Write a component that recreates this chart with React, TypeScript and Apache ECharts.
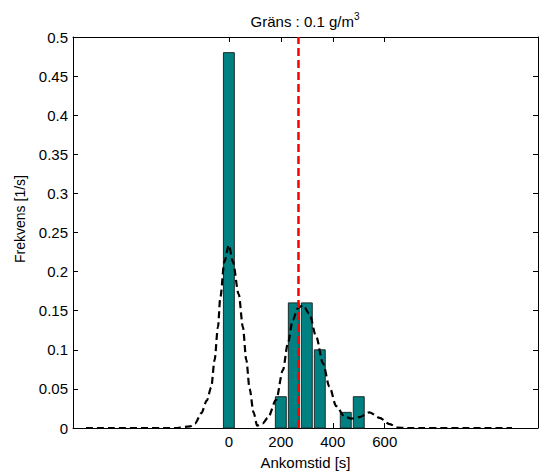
import React, { useEffect, useRef } from "react";
import * as echarts from "echarts";

// Histogram bins (arrival time, s) and frequencies (1/s)
const binCenters = [0, 200, 250, 300, 350, 450, 500];
const frequencies = [0.48, 0.04, 0.16, 0.16, 0.1, 0.02, 0.04];
const binWidth = 42;

// Smoothed density estimate (dashed curve)
const curveX = [-550, -200, -150, -130, -106, -85, -68, -55, -42, -33, -17, 0, 15, 38, 54, 67, 80, 95, 109, 130, 150, 182, 208, 227, 246, 265, 285, 310, 336, 362, 387, 413, 445, 471, 503, 541, 580, 618, 650, 680, 1090];
const curveY = [0, 0, 0.002, 0.006, 0.019, 0.035, 0.052, 0.087, 0.129, 0.167, 0.213, 0.234, 0.213, 0.171, 0.129, 0.087, 0.05, 0.02, 0.003, 0.006, 0.013, 0.036, 0.074, 0.108, 0.138, 0.153, 0.157, 0.146, 0.117, 0.083, 0.053, 0.028, 0.015, 0.012, 0.014, 0.02, 0.013, 0.005, 0.0005, 0, 0];

// Threshold line
const thresholdX = 268;
const xTicks = [0, 200, 400, 600];
const titleMain = "Gräns : 0.1 g/m";
const titleSup = "3";
const xName = "Ankomstid [s]";
const yName = "Frekvens [1/s]";

const FONT = "Liberation Sans, Arial, Helvetica, sans-serif";

export default function App() {
  const ref = useRef<HTMLDivElement>(null);
  useEffect(() => {
    if (!ref.current) return;
    const chart = echarts.init(ref.current, null, { renderer: "svg" });
    const xMin = -600;
    const xMax = 1190;
    const commonX = {
      type: "value",
      min: xMin,
      max: xMax,
      splitLine: { show: false },
      axisLine: { show: true, onZero: false, lineStyle: { color: "#000", width: 1 } },
    };
    const commonY = {
      type: "value",
      min: 0,
      max: 0.5,
      interval: 0.05,
      splitLine: { show: false },
      axisLine: { show: true, onZero: false, lineStyle: { color: "#000", width: 1 } },
      axisTick: { show: true, inside: true, length: 5, lineStyle: { color: "#000" } },
    };
    chart.setOption({
      animation: false,
      backgroundColor: "#fff",
      textStyle: { fontFamily: FONT },
      grid: { left: 73, right: 1, top: 37, bottom: 43, containLabel: false },
      xAxis: [
        {
          ...commonX,
          position: "bottom",
          axisTick: { show: true, inside: true, length: 5, customValues: xTicks, lineStyle: { color: "#000" } },
          axisLabel: { show: true, customValues: xTicks, color: "#000", fontSize: 15, margin: 6, fontFamily: FONT },
          name: xName,
          nameLocation: "middle",
          nameGap: 27,
          nameTextStyle: { color: "#000", fontSize: 15, fontFamily: FONT },
        },
        {
          ...commonX,
          position: "top",
          axisTick: { show: true, inside: true, length: 5, customValues: xTicks, lineStyle: { color: "#000" } },
          axisLabel: { show: false },
        },
      ],
      yAxis: [
        {
          ...commonY,
          position: "left",
          axisLabel: { show: true, color: "#000", fontSize: 15, margin: 5, fontFamily: FONT },
        },
        {
          ...commonY,
          position: "right",
          axisLabel: { show: false },
        },
      ],
      graphic: [
        {
          type: "text",
          x: 305,
          y: 20,
          style: {
            text: `{a|${titleMain}}{s|${titleSup}}`,
            align: "center",
            verticalAlign: "middle",
            fill: "#000",
            rich: {
              a: { fontSize: 15, fontFamily: FONT, lineHeight: 17, verticalAlign: "bottom" },
              s: { fontSize: 10, fontFamily: FONT, lineHeight: 17, verticalAlign: "top" },
            },
          },
        },
        {
          type: "text",
          x: 20,
          y: 219,
          rotation: Math.PI / 2,
          style: {
            text: yName,
            align: "center",
            verticalAlign: "middle",
            fill: "#000",
            fontSize: 14,
            fontFamily: FONT,
          },
        },
      ],
      series: [
        {
          type: "custom",
          xAxisIndex: 0,
          yAxisIndex: 0,
          data: binCenters.map((c, i) => [c, frequencies[i]]),
          renderItem: (params: any, api: any) => {
            const x = api.value(0);
            const y = api.value(1);
            const p0 = api.coord([x - binWidth / 2, y]);
            const p1 = api.coord([x + binWidth / 2, 0]);
            return {
              type: "rect",
              shape: { x: p0[0], y: p0[1], width: p1[0] - p0[0], height: p1[1] - p0[1] },
              style: { fill: "#008080", stroke: "#1f2a2a", lineWidth: 1 },
            };
          },
          z: 2,
        },
        {
          type: "line",
          xAxisIndex: 0,
          yAxisIndex: 0,
          data: curveX.map((x, i) => [x, curveY[i]]),
          smooth: 0.3,
          smoothMonotone: "x",
          showSymbol: false,
          symbol: "none",
          lineStyle: { color: "#000", width: 2.2, type: [7, 4] },
          z: 3,
        },
        {
          type: "line",
          xAxisIndex: 0,
          yAxisIndex: 0,
          data: [
            [thresholdX, 0],
            [thresholdX, 0.5],
          ],
          showSymbol: false,
          symbol: "none",
          lineStyle: { color: "#ff0000", width: 2.5, type: [8, 4] },
          z: 4,
        },
      ],
    });
    return () => chart.dispose();
  }, []);
  return (
    <div
      ref={ref}
      style={{ position: "fixed", left: 0, top: 0, width: 539, height: 475, background: "#fff" }}
    />
  );
}
